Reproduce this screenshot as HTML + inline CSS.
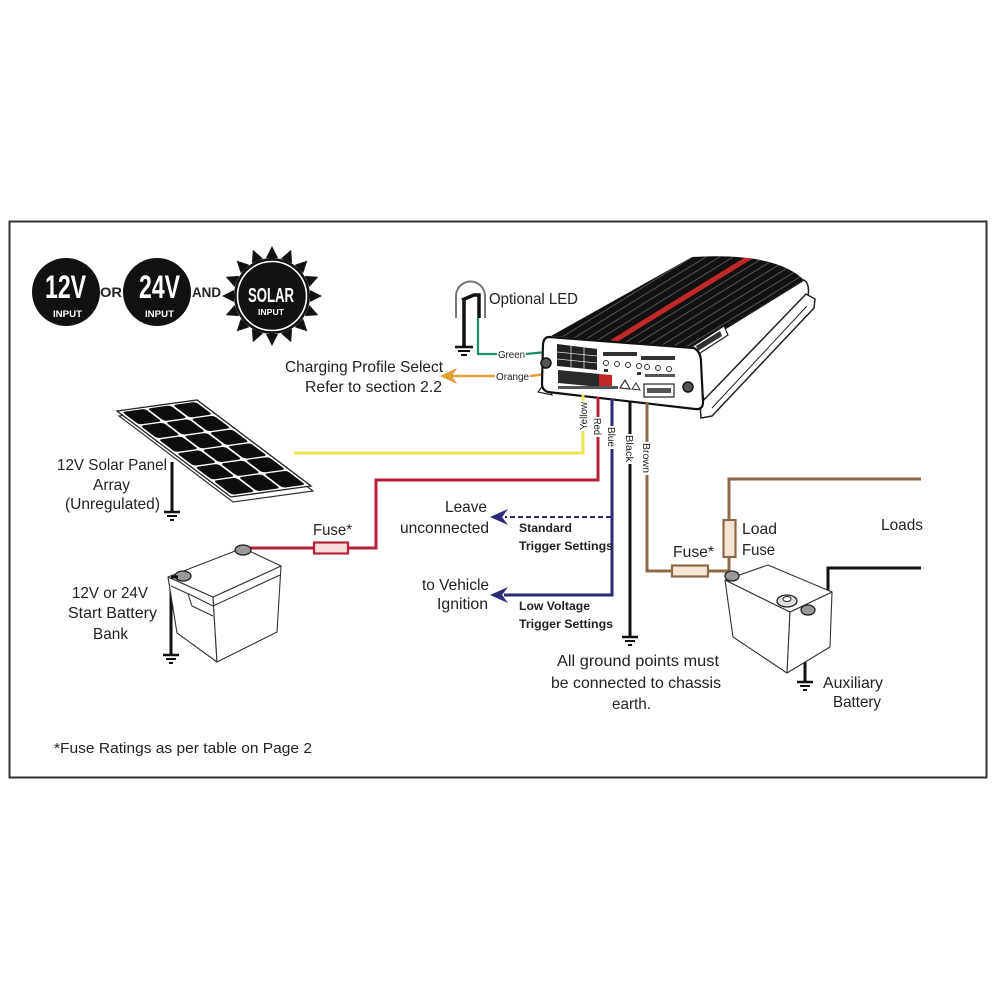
<!DOCTYPE html>
<html><head><meta charset="utf-8"><style>
html,body{margin:0;padding:0;background:#fff;}
svg{display:block;}
text{font-family:"Liberation Sans",sans-serif;fill:#222;}
</style></head><body>
<svg width="1000" height="1000" viewBox="0 0 1000 1000" xmlns="http://www.w3.org/2000/svg">
<rect width="1000" height="1000" fill="#fff"/>
<rect x="9.5" y="221.5" width="977" height="556" fill="#fff" stroke="#333" stroke-width="2"/>

<!-- Badges -->
<circle cx="66" cy="292" r="34" fill="#111"/>
<text x="45" y="298" font-size="32" font-weight="bold" textLength="41" lengthAdjust="spacingAndGlyphs" style="fill:#fff">12V</text>
<text x="53" y="317" font-size="9" font-weight="bold" textLength="29" lengthAdjust="spacingAndGlyphs" style="fill:#fff">INPUT</text>
<text x="100" y="297" font-size="14" font-weight="bold" textLength="22" lengthAdjust="spacingAndGlyphs">OR</text>
<circle cx="157" cy="292" r="34" fill="#111"/>
<text x="139" y="298" font-size="32" font-weight="bold" textLength="41" lengthAdjust="spacingAndGlyphs" style="fill:#fff">24V</text>
<text x="145" y="317" font-size="9" font-weight="bold" textLength="29" lengthAdjust="spacingAndGlyphs" style="fill:#fff">INPUT</text>
<text x="192" y="297" font-size="14" font-weight="bold" textLength="29" lengthAdjust="spacingAndGlyphs">AND</text>
<!-- Sun -->
<g fill="#111">
<polygon id="ray" points="266,258 278,258 272,246"/>
<use href="#ray" transform="rotate(22.5 272 296)"/>
<use href="#ray" transform="rotate(45 272 296)"/>
<use href="#ray" transform="rotate(67.5 272 296)"/>
<use href="#ray" transform="rotate(90 272 296)"/>
<use href="#ray" transform="rotate(112.5 272 296)"/>
<use href="#ray" transform="rotate(135 272 296)"/>
<use href="#ray" transform="rotate(157.5 272 296)"/>
<use href="#ray" transform="rotate(180 272 296)"/>
<use href="#ray" transform="rotate(202.5 272 296)"/>
<use href="#ray" transform="rotate(225 272 296)"/>
<use href="#ray" transform="rotate(247.5 272 296)"/>
<use href="#ray" transform="rotate(270 272 296)"/>
<use href="#ray" transform="rotate(292.5 272 296)"/>
<use href="#ray" transform="rotate(315 272 296)"/>
<use href="#ray" transform="rotate(337.5 272 296)"/>
</g>
<circle cx="272" cy="296" r="38" fill="#111"/>
<circle cx="272" cy="296" r="34.5" fill="none" stroke="#fff" stroke-width="1.6"/>
<text x="248" y="302" font-size="20" font-weight="bold" textLength="46" lengthAdjust="spacingAndGlyphs" style="fill:#fff">SOLAR</text>
<text x="258" y="315" font-size="8" font-weight="bold" textLength="26" lengthAdjust="spacingAndGlyphs" style="fill:#fff">INPUT</text>

<!-- Solar panel -->
<g transform="translate(2,5) matrix(26.67,-3.67,19,14.33,117,411)">
<rect x="0" y="0" width="3" height="6" fill="#fff" stroke="#333" stroke-width="1.2" vector-effect="non-scaling-stroke"/>
</g>
<g transform="matrix(26.67,-3.67,19,14.33,117,411)">
<rect x="0" y="0" width="3" height="6" fill="#fff" stroke="#222" stroke-width="1.3" vector-effect="non-scaling-stroke"/>
<g fill="#0d0d0d">
<rect x="0.12" y="0.1" width="0.86" height="0.88" rx="0.12"/>
<rect x="1.07" y="0.1" width="0.86" height="0.88" rx="0.12"/>
<rect x="2.02" y="0.1" width="0.86" height="0.88" rx="0.12"/>
<rect x="0.12" y="1.06" width="0.86" height="0.88" rx="0.12"/>
<rect x="1.07" y="1.06" width="0.86" height="0.88" rx="0.12"/>
<rect x="2.02" y="1.06" width="0.86" height="0.88" rx="0.12"/>
<rect x="0.12" y="2.02" width="0.86" height="0.88" rx="0.12"/>
<rect x="1.07" y="2.02" width="0.86" height="0.88" rx="0.12"/>
<rect x="2.02" y="2.02" width="0.86" height="0.88" rx="0.12"/>
<rect x="0.12" y="2.98" width="0.86" height="0.88" rx="0.12"/>
<rect x="1.07" y="2.98" width="0.86" height="0.88" rx="0.12"/>
<rect x="2.02" y="2.98" width="0.86" height="0.88" rx="0.12"/>
<rect x="0.12" y="3.94" width="0.86" height="0.88" rx="0.12"/>
<rect x="1.07" y="3.94" width="0.86" height="0.88" rx="0.12"/>
<rect x="2.02" y="3.94" width="0.86" height="0.88" rx="0.12"/>
<rect x="0.12" y="4.9" width="0.86" height="0.98" rx="0.12"/>
<rect x="1.07" y="4.9" width="0.86" height="0.98" rx="0.12"/>
<rect x="2.02" y="4.9" width="0.86" height="0.98" rx="0.12"/>
</g>
</g>

<!-- Grounds -->
<g stroke="#111" fill="none">
<line x1="172" y1="462" x2="172" y2="512" stroke-width="3"/>
<line x1="164" y1="512" x2="180" y2="512" stroke-width="2.5"/>
<line x1="167" y1="516" x2="177" y2="516" stroke-width="2"/>
<line x1="170" y1="520" x2="174" y2="520" stroke-width="2"/>

<line x1="171" y1="577" x2="171" y2="655" stroke-width="3"/>
<line x1="163" y1="655" x2="179" y2="655" stroke-width="2.5"/>
<line x1="166" y1="659" x2="176" y2="659" stroke-width="2"/>
<line x1="169" y1="663" x2="173" y2="663" stroke-width="2"/>

<line x1="630" y1="398" x2="630" y2="637" stroke-width="3"/>
<line x1="622" y1="637" x2="638" y2="637" stroke-width="2.5"/>
<line x1="625" y1="641" x2="635" y2="641" stroke-width="2"/>
<line x1="628" y1="645" x2="632" y2="645" stroke-width="2"/>

<line x1="805" y1="606" x2="805" y2="682" stroke-width="3"/>
<line x1="797" y1="682" x2="813" y2="682" stroke-width="2.5"/>
<line x1="800" y1="686" x2="810" y2="686" stroke-width="2"/>
<line x1="803" y1="690" x2="807" y2="690" stroke-width="2"/>

<line x1="464" y1="298" x2="464" y2="347" stroke-width="3.5"/>
<line x1="455" y1="347" x2="473" y2="347" stroke-width="2.5"/>
<line x1="458" y1="351" x2="470" y2="351" stroke-width="2"/>
<line x1="461" y1="355" x2="467" y2="355" stroke-width="2"/>
</g>

<!-- LED -->
<path d="M456,318 L456,296 A14.5,14.5 0 0 1 485,296 L485,318" fill="none" stroke="#777" stroke-width="2"/>
<path d="M462,300 L474,295 L479,295 L479,318" fill="none" stroke="#111" stroke-width="3.5"/>

<!-- Green / Orange -->
<polyline points="478,318 478,354 497,354" fill="none" stroke="#1f8f6b" stroke-width="2.2"/>
<line x1="526" y1="354" x2="546" y2="352" stroke="#1f8f6b" stroke-width="2.2"/>
<text x="498" y="358" font-size="10" textLength="27" lengthAdjust="spacingAndGlyphs">Green</text>
<line x1="452" y1="376" x2="495" y2="376" stroke="#e3a13a" stroke-width="2.5"/>
<line x1="530" y1="376" x2="546" y2="374" stroke="#e3a13a" stroke-width="2.5"/>
<polygon points="440,376 457,368 452,376 457,384" fill="#e3a13a"/>
<text x="496" y="380" font-size="10" textLength="33" lengthAdjust="spacingAndGlyphs">Orange</text>

<!-- Device -->
<path d="M551,336 L692,257 Q775,252 804,280 L694,348 Z" fill="#111"/>
<clipPath id="topc"><path d="M551,336 L692,257 Q775,252 804,280 L694,348 Z"/></clipPath>
<g clip-path="url(#topc)" stroke="#5a5a5a" stroke-width="0.9">
<line x1="562" y1="337" x2="702" y2="251"/>
<line x1="574" y1="338" x2="714" y2="252"/>
<line x1="586" y1="339" x2="726" y2="253"/>
<line x1="598" y1="340" x2="738" y2="254"/>
<line x1="626" y1="342" x2="766" y2="256"/>
<line x1="638" y1="343" x2="778" y2="257"/>
<line x1="650" y1="344" x2="790" y2="258"/>
<line x1="662" y1="345" x2="802" y2="259"/>
<line x1="674" y1="346" x2="814" y2="260"/>
<line x1="686" y1="347" x2="826" y2="261"/>
</g>
<g clip-path="url(#topc)"><line x1="612" y1="342" x2="752" y2="256" stroke="#c0282a" stroke-width="5"/></g>
<!-- right side -->
<path d="M694,348 L804,280 Q810,284 808,296 L704,400 Q699,380 697,360 Z" fill="#fff" stroke="#222" stroke-width="1.5"/>
<polygon points="690,348 724,326 728,335 694,357" fill="#fff" stroke="#222" stroke-width="1.2"/>
<polygon points="696,346 720,331 722,336 698,351" fill="#333"/>
<!-- flange -->
<path d="M700,404 L806,294 L815,299 L814,308 L712,416 L701,418 Z" fill="#fff" stroke="#222" stroke-width="1.5"/>
<line x1="712" y1="408" x2="807" y2="306" stroke="#222" stroke-width="1"/>
<path d="M547,380 L538,392 L552,395 Z" fill="#fff" stroke="#222" stroke-width="1.2"/>
<!-- front face -->
<path d="M549,337 L694,348 Q701,352 701,362 L703,402 Q703,410 695,409 L548,392 Q542,390 542,384 L543,344 Q544,337 549,337 Z" fill="#fff" stroke="#111" stroke-width="2.2"/>
<polygon points="557,344 597,349 597,370 557,366" fill="#222"/>
<g stroke="#ddd" stroke-width="0.8">
<line x1="557" y1="352" x2="597" y2="356"/>
<line x1="557" y1="359" x2="597" y2="363"/>
<line x1="571" y1="345" x2="571" y2="367"/>
<line x1="584" y1="347" x2="584" y2="369"/>
</g>
<rect x="603" y="352" width="34" height="4" fill="#333"/>
<rect x="641" y="356" width="34" height="4" fill="#333"/>
<g fill="#fff" stroke="#333" stroke-width="1">
<circle cx="606" cy="363" r="2.5"/><circle cx="617" cy="364" r="2.5"/><circle cx="628" cy="365" r="2.5"/><circle cx="639" cy="366" r="2.5"/>
<circle cx="647" cy="367" r="2.5"/><circle cx="658" cy="368" r="2.5"/><circle cx="669" cy="369" r="2.5"/>
</g>
<rect x="604" y="369" width="4" height="3" fill="#333"/><rect x="637" y="372" width="4" height="3" fill="#333"/>
<rect x="645" y="374" width="30" height="3" fill="#555"/>
<polygon points="558,370 600,374 600,387 558,383" fill="#2a2a2a"/>
<polygon points="599,374 612,375 612,389 599,388" fill="#c0282a"/>
<rect x="558" y="386" width="60" height="3" fill="#555"/>
<polygon points="620,388 625,380 630,389" fill="none" stroke="#333" stroke-width="1.2"/>
<polygon points="632,389 636,383 640,390" fill="none" stroke="#333" stroke-width="1"/>
<rect x="644" y="384" width="30" height="13" fill="#fff" stroke="#222" stroke-width="1.2"/>
<rect x="647" y="388" width="24" height="5" fill="#555"/>
<circle cx="546" cy="363" r="5" fill="#555" stroke="#111" stroke-width="1.5"/>
<circle cx="688" cy="387" r="5" fill="#555" stroke="#111" stroke-width="1.5"/>

<!-- Wires from device -->
<polyline points="583,395 583,453 294,453" fill="none" stroke="#ece54b" stroke-width="3"/>
<polyline points="598,397 598,480 376,480 376,548 348,548" fill="none" stroke="#b5213a" stroke-width="3"/>
<line x1="313" y1="548" x2="250" y2="548" stroke="#b5213a" stroke-width="3"/>
<rect x="314" y="542.5" width="34" height="11" fill="#f8dede" stroke="#b5213a" stroke-width="2.2"/>
<polyline points="612,399 612,595 504,595" fill="none" stroke="#2b2a78" stroke-width="3"/>
<line x1="611" y1="517" x2="505" y2="517" stroke="#2b2a78" stroke-width="2" stroke-dasharray="5,3"/>
<polygon points="490,517 508,509 502,517 508,525" fill="#2b2a78"/>
<polygon points="490,595 508,587 502,595 508,603" fill="#2b2a78"/>
<polyline points="647,402 647,571 672,571" fill="none" stroke="#8a6a48" stroke-width="3"/>
<line x1="708" y1="571" x2="728" y2="571" stroke="#8a6a48" stroke-width="3"/>
<rect x="672" y="565.5" width="36" height="11" fill="#f4e6d6" stroke="#8a6a48" stroke-width="2.2"/>
<polyline points="729,575 729,479 921,479" fill="none" stroke="#8a6a48" stroke-width="3"/>
<rect x="723.5" y="520" width="12" height="37" fill="#f4e6d6" stroke="#8a6a48" stroke-width="2.2"/>
<polyline points="921,568 828,568 828,612 812,612" fill="none" stroke="#111" stroke-width="3"/>

<!-- wire labels -->
<g font-size="10">
<rect x="577" y="401" width="12" height="30" fill="#fff"/>
<text transform="translate(587,430) rotate(-90)" textLength="28" lengthAdjust="spacingAndGlyphs">Yellow</text>
<rect x="592" y="417" width="12" height="20" fill="#fff"/>
<text transform="translate(594,418) rotate(90)" textLength="17" lengthAdjust="spacingAndGlyphs">Red</text>
<rect x="606" y="426" width="12" height="23" fill="#fff"/>
<text transform="translate(608,427) rotate(90)" textLength="20" lengthAdjust="spacingAndGlyphs">Blue</text>
<rect x="624" y="434" width="12" height="30" fill="#fff"/>
<text transform="translate(626,435) rotate(90)" textLength="27" lengthAdjust="spacingAndGlyphs">Black</text>
<rect x="641" y="442" width="12" height="33" fill="#fff"/>
<text transform="translate(643,443) rotate(90)" textLength="30" lengthAdjust="spacingAndGlyphs">Brown</text>
</g>

<!-- Start battery -->
<g fill="#fff" stroke="#333" stroke-width="1.1" stroke-linejoin="round">
<polygon points="168,577 213,597 217,662 177,633"/>
<polygon points="213,597 281,566 277,632 217,662"/>
<polygon points="168,577 243,548 281,566 213,597"/>
<polyline points="171,586 193,596 213,606 280,575" fill="none"/>
<polyline points="188,594 192,606 213,616" fill="none"/>
</g>
<ellipse cx="243" cy="550" rx="8" ry="5" fill="#999" stroke="#222" stroke-width="1.3"/>
<ellipse cx="183" cy="576" rx="8" ry="5" fill="#999" stroke="#222" stroke-width="1.3"/>
<line x1="171" y1="577" x2="178" y2="577" stroke="#111" stroke-width="3"/>

<!-- Aux battery -->
<g fill="#fff" stroke="#333" stroke-width="1.1" stroke-linejoin="round">
<polygon points="725,580 790,612 787,673 733,637"/>
<polygon points="790,612 832,592 830,647 787,673"/>
<polygon points="725,580 768,565 832,592 790,612"/>
</g>
<ellipse cx="787" cy="601" rx="10" ry="6" fill="#ddd" stroke="#222" stroke-width="1.3"/>
<ellipse cx="787" cy="599" rx="4" ry="2.5" fill="#fff" stroke="#222" stroke-width="1"/>
<ellipse cx="732" cy="576" rx="7" ry="5" fill="#999" stroke="#222" stroke-width="1.3"/>
<ellipse cx="808" cy="610" rx="7" ry="5" fill="#999" stroke="#222" stroke-width="1.3"/>

<!-- Text labels -->
<g font-size="16">
<text x="489" y="304" textLength="89" lengthAdjust="spacingAndGlyphs">Optional LED</text>
<text x="285" y="372" textLength="158" lengthAdjust="spacingAndGlyphs">Charging Profile Select</text>
<text x="305" y="392" textLength="137" lengthAdjust="spacingAndGlyphs">Refer to section 2.2</text>
<text x="57" y="470" textLength="110" lengthAdjust="spacingAndGlyphs">12V Solar Panel</text>
<text x="93" y="490" textLength="37" lengthAdjust="spacingAndGlyphs">Array</text>
<text x="65" y="509" textLength="95" lengthAdjust="spacingAndGlyphs">(Unregulated)</text>
<text x="72" y="598" textLength="76" lengthAdjust="spacingAndGlyphs">12V or 24V</text>
<text x="68" y="618" textLength="89" lengthAdjust="spacingAndGlyphs">Start Battery</text>
<text x="93" y="639" textLength="35" lengthAdjust="spacingAndGlyphs">Bank</text>
<text x="313" y="535" textLength="39" lengthAdjust="spacingAndGlyphs">Fuse*</text>
<text x="445" y="512" textLength="42" lengthAdjust="spacingAndGlyphs">Leave</text>
<text x="400" y="533" textLength="89" lengthAdjust="spacingAndGlyphs">unconnected</text>
<text x="422" y="590" textLength="67" lengthAdjust="spacingAndGlyphs">to Vehicle</text>
<text x="437" y="609" textLength="51" lengthAdjust="spacingAndGlyphs">Ignition</text>
<text x="557" y="666" textLength="162" lengthAdjust="spacingAndGlyphs">All ground points must</text>
<text x="551" y="688" textLength="170" lengthAdjust="spacingAndGlyphs">be connected to chassis</text>
<text x="612" y="709" textLength="39" lengthAdjust="spacingAndGlyphs">earth.</text>
<text x="673" y="557" textLength="41" lengthAdjust="spacingAndGlyphs">Fuse*</text>
<text x="742" y="534" textLength="35" lengthAdjust="spacingAndGlyphs">Load</text>
<text x="742" y="555" textLength="33" lengthAdjust="spacingAndGlyphs">Fuse</text>
<text x="881" y="530" textLength="42" lengthAdjust="spacingAndGlyphs">Loads</text>
<text x="823" y="688" textLength="60" lengthAdjust="spacingAndGlyphs">Auxiliary</text>
<text x="833" y="707" textLength="48" lengthAdjust="spacingAndGlyphs">Battery</text>
<text x="54" y="753" font-size="15" textLength="258" lengthAdjust="spacingAndGlyphs">*Fuse Ratings as per table on Page 2</text>
</g>
<g font-size="12" font-weight="bold">
<text x="519" y="532" textLength="53" lengthAdjust="spacingAndGlyphs">Standard</text>
<text x="519" y="550" textLength="94" lengthAdjust="spacingAndGlyphs">Trigger Settings</text>
<text x="519" y="610" textLength="71" lengthAdjust="spacingAndGlyphs">Low Voltage</text>
<text x="519" y="628" textLength="94" lengthAdjust="spacingAndGlyphs">Trigger Settings</text>
</g>
</svg>
</body></html>
